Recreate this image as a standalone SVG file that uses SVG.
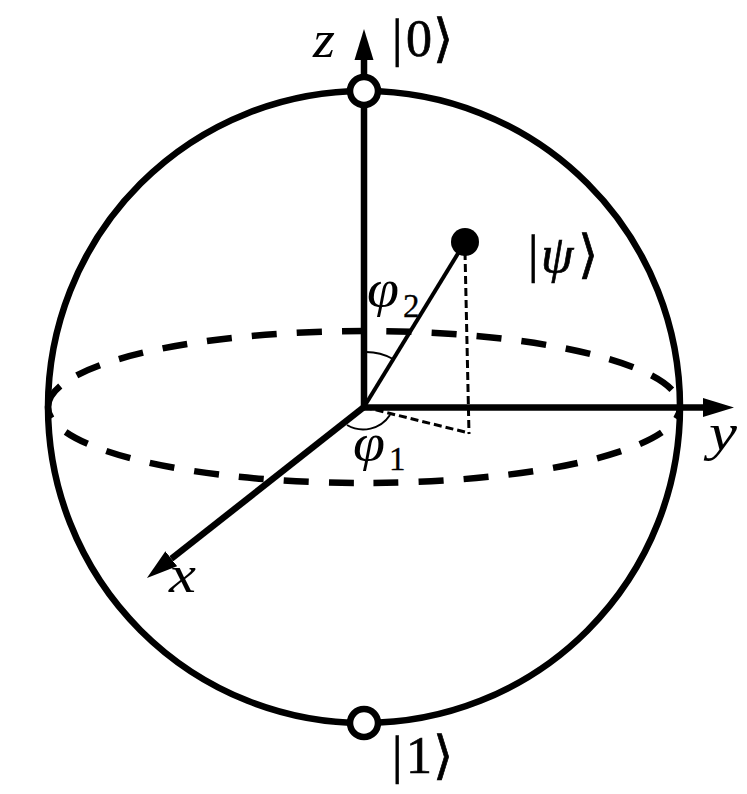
<svg xmlns="http://www.w3.org/2000/svg" width="747" height="794" viewBox="0 0 747 794">
<style>
.axis{fill:none;stroke:#000;stroke-width:6.500}
.equator{fill:none;stroke:#000;stroke-width:6.500;stroke-dasharray:25 20}
.thin{fill:none;stroke:#000;stroke-width:4}
.dash{fill:none;stroke:#000;stroke-width:3;stroke-dasharray:8 4}
.arc{fill:none;stroke:#000;stroke-width:2}
.pole{fill:#fff;stroke:#000;stroke-width:6.500}
text{font-family:"Liberation Serif","DejaVu Serif",serif;fill:#000;stroke:#000;stroke-width:0.700}
.m{font-size:52px}
.i{font-size:52px;font-style:italic;stroke-width:0}
.s{font-size:33px;stroke-width:0.300}
</style>
<defs>
<marker id="head" markerUnits="userSpaceOnUse" markerWidth="32" markerHeight="20" refX="0" refY="10" orient="auto"><path d="M0 0.500L31 10L0 19.500Z" fill="#000"/></marker>
</defs>
<rect width="747" height="794" fill="#fff"/>
<g id="sphere"><circle class="axis" cx="364" cy="407" r="316"/></g>
<g id="connectors">
<path class="equator" d="M48 407A316 76 0 0 1 680 407" stroke-dashoffset="0"/>
<path class="equator" d="M48 407A316 76 0 0 0 680 407" stroke-dashoffset="13"/>
<line class="axis" x1="364" y1="407" x2="364" y2="60" marker-end="url(#head)"/>
<line class="axis" x1="364" y1="407.500" x2="703" y2="407.500" marker-end="url(#head)"/>
<line class="axis" x1="364" y1="407" x2="171.300" y2="558.800" marker-end="url(#head)"/>
<line class="thin" x1="364" y1="407" x2="465" y2="242"/>
<line class="dash" x1="465" y1="252" x2="469" y2="434"/>
<line class="dash" x1="364" y1="407" x2="469" y2="433"/>
<path class="arc" d="M365 352A55 55 0 0 1 393 359"/>
<path class="arc" d="M347 425A32 32 0 0 0 390 415"/>
</g>
<g id="pole-0"><circle class="pole" cx="364" cy="91" r="14"/></g>
<g id="pole-1"><circle class="pole" cx="364" cy="723" r="14"/></g>
<g id="state"><circle cx="465" cy="242" r="14" fill="#000"/></g>
<g id="labels">
<text class="i" x="313" y="57" textLength="22" lengthAdjust="spacingAndGlyphs">z</text>
<text class="m" y="56"><tspan x="392">|</tspan><tspan x="406">0</tspan><tspan x="433">⟩</tspan></text>
<text class="m" y="773"><tspan x="392">|</tspan><tspan x="406">1</tspan><tspan x="433">⟩</tspan></text>
<text class="m" y="272"><tspan x="528">|</tspan><tspan x="541" font-style="italic">ψ</tspan><tspan x="578">⟩</tspan></text>
<text class="i" x="367" y="306" textLength="32" lengthAdjust="spacingAndGlyphs">φ</text><text class="s" x="403" y="317">2</text>
<text class="i" x="353" y="460" textLength="32" lengthAdjust="spacingAndGlyphs">φ</text><text class="s" x="389" y="470">1</text>
<text class="i" x="169" y="592" textLength="27" lengthAdjust="spacingAndGlyphs">x</text>
<text class="i" x="709" y="450" textLength="28" lengthAdjust="spacingAndGlyphs">y</text>
</g>
</svg>
